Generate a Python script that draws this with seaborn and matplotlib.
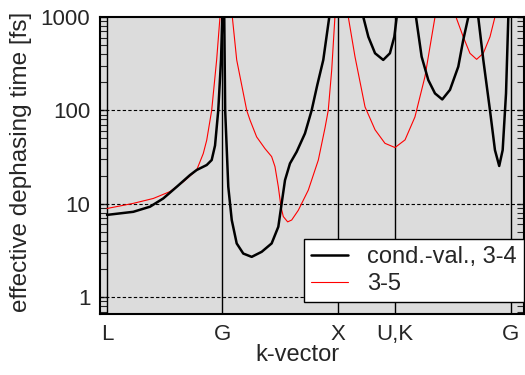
import matplotlib
matplotlib.use("Agg")
import matplotlib.pyplot as plt
import seaborn as sns

# k-path positions (path units) and labels
kpoints = [0.0, 1.0, 2.0, 2.5, 3.5]
klabels = ["L", "G", "X", "U,K", "G"]

# cond.-val., 3-4  (values above 1000 leave the plot at the top)
k_34 = [0.000, 0.228, 0.373, 0.488, 0.605, 0.720, 0.778, 0.865, 0.908, 0.937, 0.965, 0.989,
        1.000, 1.008, 1.017, 1.025, 1.052, 1.082, 1.125, 1.182, 1.255, 1.342, 1.428, 1.486,
        1.515, 1.544, 1.587, 1.645, 1.717, 1.775, 1.824, 1.876, 1.928, 2.073,
        2.223, 2.267, 2.325, 2.396, 2.454, 2.492, 2.513, 2.593,
        2.680, 2.729, 2.787, 2.845, 2.908, 2.975, 3.047, 3.090, 3.134, 3.174,
        3.220, 3.264, 3.322, 3.365, 3.402, 3.432, 3.461, 3.481, 3.620]
t_34 = [7.6, 8.2, 9.3, 11.4, 15.2, 20.3, 23, 26, 29.4, 42, 100, 347,
        1000, 1e5, 1000, 100, 15.2, 6.7, 3.76, 2.93, 2.7, 3.06, 3.76, 5.67,
        10.1, 17.9, 27, 36, 56.6, 100, 187, 347, 1000, 1e5,
        1000, 613, 409, 347, 409, 613, 1000, 1e4,
        1000, 376, 211, 152, 131, 166, 294, 567, 1000, 1e4,
        1000, 347, 100, 37.6, 25.4, 37.6, 152, 1000, 1e5]

# 3-5
k_35 = [0.000, 0.228, 0.402, 0.546, 0.662, 0.778, 0.835, 0.865, 0.908, 0.951, 0.980, 1.032,
        1.087, 1.125, 1.212, 1.240, 1.298, 1.370, 1.428, 1.457, 1.486, 1.509, 1.529, 1.567,
        1.602, 1.659, 1.746, 1.833, 1.891, 1.919, 1.949, 1.977, 2.038,
        2.093, 2.151, 2.238, 2.325, 2.411, 2.498, 2.585, 2.671, 2.758, 2.845, 2.940,
        3.027, 3.090, 3.148, 3.206, 3.264, 3.322, 3.365, 3.620]
t_35 = [8.9, 10.1, 11.4, 13.5, 17.2, 23, 34.5, 48, 100, 347, 1000, 1e5,
        1000, 347, 100, 79, 52, 39, 32, 25, 15.2, 9.3, 7.3, 6.4,
        6.7, 8.5, 14, 29.4, 65, 100, 270, 1000, 1e5,
        1000, 376, 109, 62, 44.4, 40, 48.3, 85, 230, 1000, 1e5,
        1000, 613, 409, 352, 409, 613, 1000, 1e5]

sns.set_style("ticks")
plt.rcParams["font.family"] = ["Liberation Sans", "DejaVu Sans"]
plt.rcParams["font.size"] = 16

fig = plt.figure(figsize=(5.25, 3.75), dpi=100)
ax = fig.add_axes([100 / 525, 1 - 314 / 375, 424 / 525, 297 / 375])
ax.set_facecolor("#dcdcdc")

ax.set_yscale("log")
ax.set_xlim(-0.0607, 3.617)
ax.set_ylim(0.66, 1000)

for y in [1, 10, 100]:
    ax.axhline(y, color="black", lw=0.8, ls=(0, (3, 2)), zorder=1)
for k in kpoints:
    ax.axvline(k, color="black", lw=1.0, zorder=1)

sns.lineplot(x=k_34, y=t_34, ax=ax, color="black", lw=1.8, sort=False,
             estimator=None, label="cond.-val., 3-4", zorder=3)
sns.lineplot(x=k_35, y=t_35, ax=ax, color="red", lw=0.8, sort=False,
             estimator=None, label="3-5", zorder=2)

ax.set_yticks([1, 10, 100, 1000])
ax.set_yticklabels(["1", "10", "100", "1000"])
ax.tick_params(axis="y", which="both", direction="in", left=True, right=True,
               length=5, width=0.8, pad=7)
ax.tick_params(axis="y", which="major", width=1.0)
ax.set_xticks(kpoints)
ax.set_xticklabels(klabels)
ax.tick_params(axis="x", length=0, pad=7)

for s in ax.spines.values():
    s.set_linewidth(1.5)
    s.set_color("black")

ax.set_xlabel("k-vector", fontsize=17)
ax.xaxis.set_label_coords((297 - 100) / 424, -0.100)
ax.set_ylabel("effective dephasing time [fs]", fontsize=17.5)
ax.yaxis.set_label_coords(-0.160, 0.513)

leg = ax.legend(loc="lower right", bbox_to_anchor=(1.0, 0.040), fancybox=False,
                framealpha=1, edgecolor="black", borderaxespad=0, handlelength=1.6,
                handletextpad=0.8, borderpad=0.3, labelspacing=0.2, fontsize=17)
leg.get_frame().set_linewidth(1.0)

fig.savefig("out.png", dpi=100)
